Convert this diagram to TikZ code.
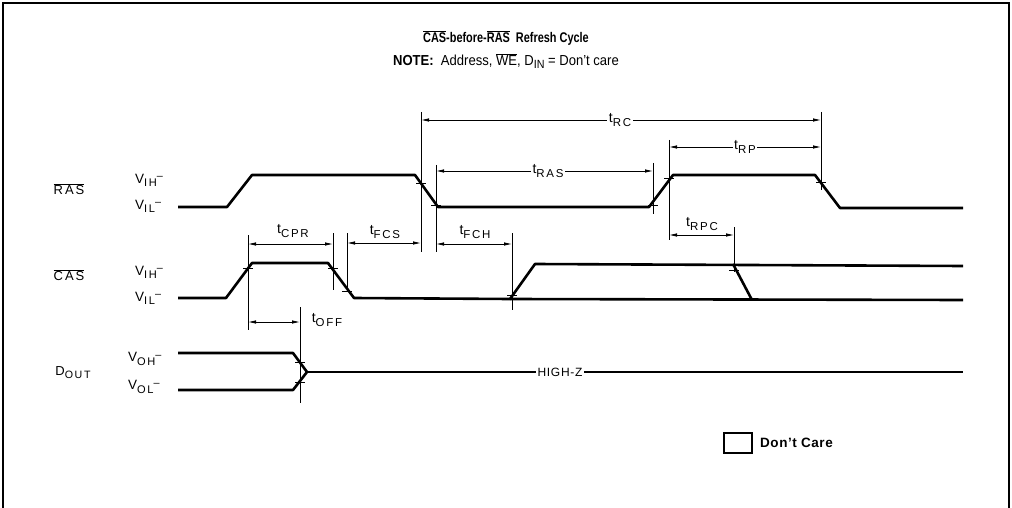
\documentclass[tikz,border=0pt]{standalone}
\usepackage{fontspec}
\usepackage{graphicx}
\setmainfont{Liberation Sans}
\newfontfamily\titlefont[FakeStretch=0.78]{Liberation Sans}
\newfontfamily\notefont[FakeStretch=0.9]{Liberation Sans}
\newfontfamily\labfont[LetterSpace=15]{Liberation Sans}
\newfontfamily\hzfont[LetterSpace=6]{Liberation Sans}
\newfontfamily\dcfont[LetterSpace=4]{Liberation Sans}
\usetikzlibrary{arrows.meta}
\newcommand{\ovl}[1]{\ensuremath{\overline{\hbox{#1}}}}
\newcommand{\lsub}[1]{\raisebox{-0.45ex}{\scalebox{0.82}{#1}}}
\newcommand{\tm}[1]{t\lsub{#1}}
\newcommand{\vlev}[1]{V\lsub{#1}\raisebox{0.55ex}{\scalebox{0.8}{–}}}
\begin{document}
\begin{tikzpicture}[x=1pt,y=-1pt,
  sig/.style={line width=2.6pt, line join=round},
  thinl/.style={line width=0.9pt},
  dim/.style={line width=0.8pt, {Latex[length=8pt,width=3.5pt]}-{Latex[length=8pt,width=3.5pt]}},
  tickl/.style={line width=0.9pt},
  lbl/.style={font=\labfont\fontsize{14}{14}\selectfont, inner sep=1pt},
  sname/.style={font=\labfont\fontsize{13}{13}\selectfont, inner sep=1pt},
  vl/.style={font=\labfont\fontsize{13.5}{13.5}\selectfont, inner sep=0pt, anchor=west},
  tl/.style={font=\labfont\fontsize{14}{14}\selectfont, fill=white, inner sep=1.5pt},
]
\useasboundingbox (0,0) rectangle (1012,508);
% frame
\draw[line width=1.2pt] (3,508) -- (3,3) -- (1009,3) -- (1009,508);
% titles
\node[font=\titlefont\bfseries\fontsize{14}{14}\selectfont, inner sep=0] (title) at (506,38) {\ovl{CAS}-before-\ovl{RAS}\ \ Refresh Cycle};
\node[font=\notefont\fontsize{14.5}{14.5}\selectfont, inner sep=0] (note) at (506,61) {\textbf{NOTE:}\ \ Address, \ovl{WE}, D\lsub{IN} = Don’t care};
% signal names
\node[sname] (ras) at (69,189) {\ovl{RAS}};
\node[sname] (cas) at (69,275) {\ovl{CAS}};
\node[sname] (dout) at (73,373) {D\lsub{OUT}};
\node[vl] (rvih) at (135,180) {\vlev{IH}};
\node[vl] (rvil) at (135,206) {\vlev{IL}};
\node[vl] (cvih) at (135,272) {\vlev{IH}};
\node[vl] (cvil) at (135,298) {\vlev{IL}};
\node[vl] (voh) at (128,359) {\vlev{OH}};
\node[vl] (vol) at (128,387) {\vlev{OL}};
% RAS waveform
\draw[sig] (178,207) -- (227,207) -- (252,175) -- (415,175) -- (438,207) -- (649,207) -- (673,175) -- (815,175) -- (840,208) -- (963,208);
% CAS waveform
\draw[sig] (178,298) -- (226,298) -- (252,263) -- (328,263) -- (354,298) -- (510,299) -- (535,264) -- (963,266);
\draw[sig] (510,299) -- (963,300);
\draw[sig] (733,264) -- (752,300);
% DOUT waveform
\draw[sig] (178,353) -- (293,353) -- (307,372);
\draw[sig] (178,390) -- (293,390) -- (307,372);
\draw[line width=1.8pt] (307,372) -- (963,372);
\node[font=\hzfont\fontsize{12}{12}\selectfont, fill=white, inner sep=2pt] (hz) at (560,372) {HIGH-Z};
% reference verticals
\draw[thinl] (421,112) -- (421,252);
\draw[thinl] (436,165) -- (436,252);
\draw[thinl] (653,163) -- (653,214);
\draw[thinl] (669,140) -- (669,240);
\draw[thinl] (821,112) -- (821,190);
\draw[thinl] (248,235) -- (248,330);
\draw[thinl] (333,233) -- (333,290);
\draw[thinl] (347,233) -- (347,288);
\draw[thinl] (512,233) -- (512,310);
\draw[thinl] (734,227) -- (734,272);
\draw[thinl] (300,307) -- (300,403);
% crossing ticks
\foreach \p in {(421,183),(436,205),(653,205),(669,178),(821,182),(248,268),(333,268),(347,291),(512,295),(734,270),(300,362),(300,382)}
  \draw[tickl] \p ++(-5,0) -- ++(10,0);
% timing dimensions
\draw[dim] (421,120) -- (821,120);
\node[tl] (trc) at (620,120) {\tm{RC}};
\draw[dim] (436,171) -- (653,171);
\node[tl] (tras) at (548,171) {\tm{RAS}};
\draw[dim] (669,147) -- (821,147);
\node[tl] (trp) at (745,147) {\tm{RP}};
\draw[dim] (248,244) -- (333,244);
\node[lbl] (tcpr) at (293,231) {\tm{CPR}};
\draw[dim] (347,243) -- (421,243);
\node[lbl] (tfcs) at (385,232) {\tm{FCS}};
\draw[dim] (436,244) -- (512,244);
\node[lbl] (tfch) at (475,232) {\tm{FCH}};
\draw[dim] (669,235) -- (734,235);
\node[lbl] (trpc) at (702,224) {\tm{RPC}};
\draw[dim] (248,322) -- (300,322);
\node[lbl] (toff) at (327,320) {\tm{OFF}};
% legend
\draw[line width=2.8pt] (724,433) rectangle (752,453);
\node[font=\dcfont\bfseries\fontsize{13.5}{13.5}\selectfont, anchor=west, inner sep=0] (dc) at (760,443) {Don’t Care};
\end{tikzpicture}
\end{document}
